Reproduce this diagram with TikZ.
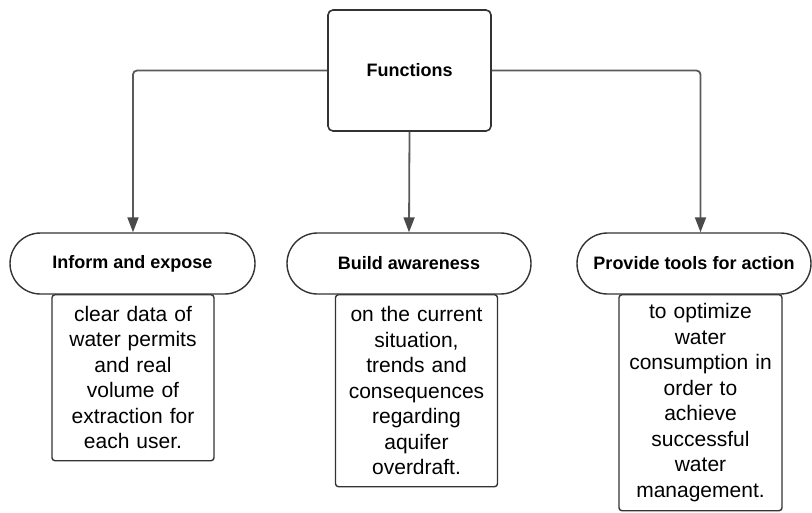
\documentclass[tikz,border=0pt]{standalone}
\usepackage{fontspec}
\setmainfont{Liberation Sans}
\usetikzlibrary{shapes.misc,arrows.meta}
\definecolor{edgec}{HTML}{333333}
\definecolor{linkc}{HTML}{5A5A5A}
\definecolor{tipc}{HTML}{4A4A4A}
\tikzset{
  titlebox/.style={draw=edgec, line width=1.6pt, rounded corners=5pt, fill=white,
    minimum width=163pt, minimum height=121pt, font=\fontsize{18}{22}\selectfont\bfseries},
  pill/.style={draw=edgec, line width=1.4pt, rounded rectangle, fill=white,
    minimum height=61pt, inner sep=0pt, font=\fontsize{18}{22}\selectfont\bfseries},
  textbox/.style={draw=edgec, line width=1.4pt, rounded corners=3pt, fill=white,
    anchor=north, inner sep=0pt, align=center,
    font=\fontsize{21}{25.5}\selectfont},
  link/.style={draw=linkc, line width=1.8pt, rounded corners=4pt,
    -{Triangle[length=15pt,width=11pt,color=tipc]}}
}
\begin{document}
\begin{tikzpicture}[x=1pt,y=-1pt]
\useasboundingbox (0,0) rectangle (812,512);
\node[titlebox] (func) at (409.5,70.5) {Functions};
\node[textbox, minimum width=162pt, minimum height=166pt, text width=160pt] (b1) at (133,294)
  {clear data of\\water permits\\and real\\volume of\\extraction for\\each user.};
\node[textbox, minimum width=162pt, minimum height=192pt, text width=160pt] (b2) at (416.5,294)
  {on the current\\situation,\\trends and\\consequences\\regarding\\aquifer\\overdraft.};
\node[textbox, minimum width=163pt, minimum height=216pt, text width=160pt] (b3) at (700.5,294)
  {to optimize\\water\\consumption in\\order to\\achieve\\successful\\water\\management.};
\node[pill, minimum width=245pt] (p1) at (132.5,263.5) {Inform and expose};
\node[pill, minimum width=244pt] (p2) at (409,263.5) {Build awareness};
\node[pill, minimum width=234pt] (p3) at (694,263.5) {Provide tools for action};
\draw[link] (func.west) -| (b1.north |- p1.north);
\draw[link] (func.south) -- (p2.north);
\draw[link] (func.east) -| (b3.north |- p3.north);
\end{tikzpicture}
\end{document}
